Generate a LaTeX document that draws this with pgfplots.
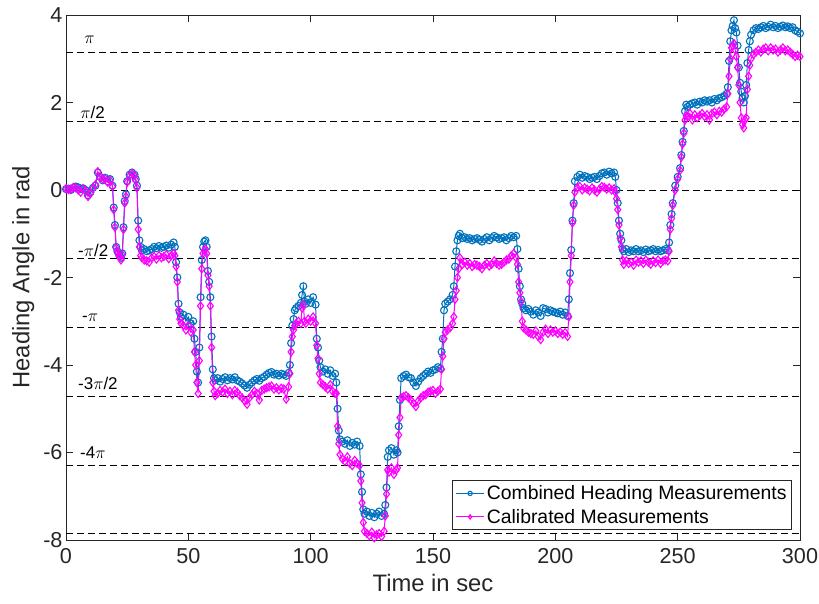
\documentclass[border=0pt]{standalone}
\usepackage{fontspec}
\setmainfont{Liberation Sans}
\usepackage{pgfplots}
\usepackage{pgfplotstable}
\pgfplotsset{compat=1.18}
\definecolor{mblue}{rgb}{0,0.447,0.741}
\definecolor{mmag}{rgb}{1,0,1}
\definecolor{axgray}{rgb}{0.15,0.15,0.15}

\pgfplotstableread{
t b m
0 0.02 0.03
1 0.03 0.01
2 0.00 0.02
3 0.05 0.06
4 0.08 0.05
5 0.06 0.00
6 0.02 -0.05
7 0.04 0.03
8 0.00 -0.02
9 -0.12 -0.15
10 -0.05 -0.08
11 0.05 0.04
12 0.10 0.12
13 0.40 0.42
14 0.30 0.28
15 0.22 0.25
16 0.28 0.25
17 0.20 0.18
18 0.25 0.22
19 0.10 0.08
19.5 -0.40 -0.45
20 -0.80 -0.85
20.5 -1.30 -1.32
21 -1.40 -1.42
21.5 -1.45 -1.50
22 -1.50 -1.52
22.5 -1.55 -1.60
23 -1.45 -1.48
23.5 -0.85 -0.90
24 -0.25 -0.30
24.5 -0.10 -0.15
25 0.20 0.18
26 0.35 0.32
27 0.40 0.38
28 0.35 0.33
28.5 0.25 0.22
29 0.10 0.05
29.5 -0.70 -0.90
30 -1.15 -1.30
30.5 -1.30 -1.50
31 -1.38 -1.55
32 -1.35 -1.60
33 -1.40 -1.62
34 -1.38 -1.65
35 -1.35 -1.55
36 -1.30 -1.52
37 -1.33 -1.58
38 -1.28 -1.50
39 -1.32 -1.55
40 -1.30 -1.52
41 -1.27 -1.48
42 -1.32 -1.57
43 -1.25 -1.50
44 -1.20 -1.45
44.5 -1.30 -1.50
45 -1.65 -1.75
45.5 -2.00 -2.10
46 -2.60 -2.75
46.5 -2.80 -2.95
47 -2.90 -3.05
48 -2.85 -3.10
49 -3.00 -3.20
50 -2.90 -3.10
51 -3.05 -3.25
52 -3.00 -3.20
52.5 -3.40 -3.70
53 -3.70 -4.00
53.5 -4.15 -4.40
54 -4.40 -4.65
54.5 -3.60 -3.90
55 -2.45 -2.65
55.5 -1.60 -1.80
56 -1.30 -1.45
56.5 -1.18 -1.38
57 -1.15 -1.35
57.5 -1.30 -1.45
58 -1.85 -1.95
58.5 -2.10 -2.20
59 -2.45 -2.65
59.5 -3.35 -3.60
60 -4.10 -4.40
60.5 -4.30 -4.60
61 -4.35 -4.70
62 -4.30 -4.65
63 -4.38 -4.58
64 -4.32 -4.62
65 -4.28 -4.55
66 -4.35 -4.65
67 -4.30 -4.60
68 -4.33 -4.68
69 -4.28 -4.58
70 -4.35 -4.62
71 -4.38 -4.70
72 -4.42 -4.75
73 -4.47 -4.82
74 -4.52 -4.90
75 -4.45 -4.75
76 -4.40 -4.68
77 -4.35 -4.60
78 -4.32 -4.65
79 -4.36 -4.80
80 -4.30 -4.58
81 -4.27 -4.55
82 -4.22 -4.52
83 -4.18 -4.50
84 -4.16 -4.48
85 -4.22 -4.55
86 -4.20 -4.52
87 -4.24 -4.57
88 -4.20 -4.53
89 -4.22 -4.55
90 -4.25 -4.78
91 -4.18 -4.50
91.5 -4.00 -4.20
92 -3.50 -3.70
92.5 -3.10 -3.35
93 -2.95 -3.20
93.5 -2.75 -3.10
94 -2.70 -3.05
95 -2.65 -3.00
96 -2.58 -3.05
96.5 -2.40 -2.70
97 -2.20 -2.62
97.5 -2.55 -3.00
98 -2.60 -3.05
99 -2.50 -2.95
100 -2.58 -3.00
101 -2.45 -2.90
102 -2.62 -3.05
102.5 -3.40 -3.55
103 -3.60 -3.85
103.5 -3.90 -4.20
104 -4.05 -4.40
105 -4.15 -4.45
106 -4.10 -4.50
107 -4.20 -4.55
108 -4.12 -4.45
109 -4.25 -4.60
110 -4.20 -4.65
110.5 -4.40 -4.65
111 -5.00 -5.40
111.5 -5.50 -5.80
112 -5.70 -6.05
113 -5.75 -6.15
114 -5.80 -6.20
115 -5.72 -6.10
116 -5.85 -6.25
117 -5.78 -6.30
118 -5.82 -6.18
119 -5.75 -6.25
120 -5.85 -6.30
120.5 -6.50 -6.65
121 -6.90 -7.15
121.5 -7.30 -7.60
122 -7.40 -7.80
123 -7.35 -7.85
124 -7.45 -7.90
125 -7.38 -7.82
126 -7.48 -7.95
127 -7.40 -7.88
128 -7.35 -7.85
129 -7.45 -7.92
130 -7.40 -7.80
130.5 -7.20 -7.45
131 -6.80 -6.95
131.5 -6.10 -6.40
132 -5.95 -6.45
133 -5.90 -6.35
134 -6.05 -6.50
135 -5.95 -6.40
135.5 -6.00 -6.35
136 -5.40 -5.60
136.5 -4.80 -5.20
137 -4.30 -4.75
138 -4.25 -4.72
139 -4.22 -4.70
140 -4.28 -4.75
141 -4.30 -4.80
142 -4.40 -4.88
143 -4.48 -4.95
144 -4.38 -4.82
145 -4.30 -4.75
146 -4.25 -4.70
147 -4.20 -4.68
148 -4.15 -4.62
149 -4.18 -4.60
150 -4.12 -4.58
151 -4.10 -4.65
152 -4.05 -4.60
153 -4.08 -4.55
153.5 -3.70 -4.10
154 -3.40 -3.80
154.5 -2.75 -3.40
155 -2.60 -3.25
156 -2.55 -3.20
157 -2.50 -3.15
158 -2.40 -3.05
158.5 -2.20 -2.90
159 -1.75 -2.50
159.5 -1.40 -2.30
160 -1.15 -2.00
160.5 -1.05 -1.80
161 -1.00 -1.55
162 -1.10 -1.70
163 -1.08 -1.65
164 -1.12 -1.72
165 -1.10 -1.68
166 -1.15 -1.75
167 -1.12 -1.70
168 -1.10 -1.72
169 -1.14 -1.75
170 -1.18 -1.80
171 -1.12 -1.72
172 -1.08 -1.68
173 -1.15 -1.74
174 -1.10 -1.70
175 -1.05 -1.62
176 -1.08 -1.68
177 -1.12 -1.72
178 -1.10 -1.70
179 -1.08 -1.65
180 -1.15 -1.60
181 -1.10 -1.58
182 -1.05 -1.50
183 -1.08 -1.45
184 -1.05 -1.55
184.5 -1.35 -1.70
185 -1.80 -2.10
185.5 -2.20 -2.35
186 -2.50 -2.55
186.5 -2.60 -3.00
187 -2.70 -3.15
188 -2.75 -3.20
189 -2.72 -3.25
190 -2.78 -3.28
191 -2.85 -3.30
192 -2.75 -3.22
193 -2.80 -3.35
194 -2.88 -3.42
195 -2.70 -3.25
196 -2.72 -3.18
197 -2.80 -3.28
198 -2.75 -3.20
199 -2.78 -3.25
200 -2.80 -3.22
201 -2.82 -3.28
202 -2.78 -3.25
203 -2.85 -3.30
204 -2.80 -3.26
205 -2.88 -3.35
205.5 -2.50 -2.90
206 -1.90 -2.10
206.5 -1.37 -1.50
207 -0.70 -0.75
207.5 -0.30 -0.35
208 0.20 -0.05
209 0.30 0.05
210 0.35 0.08
211 0.28 0.00
212 0.32 0.05
213 0.30 0.02
214 0.25 -0.02
215 0.28 0.05
216 0.30 0.00
217 0.25 -0.05
218 0.32 0.02
219 0.38 0.08
220 0.40 0.06
221 0.35 0.02
222 0.42 0.05
223 0.38 0.00
224 0.40 0.03
224.5 0.30 -0.05
225 0.00 -0.20
225.5 -0.30 -0.45
226 -0.70 -0.80
226.5 -1.00 -1.10
227 -1.15 -1.30
227.5 -1.35 -1.60
228 -1.40 -1.70
229 -1.35 -1.62
230 -1.42 -1.68
231 -1.38 -1.65
232 -1.40 -1.72
233 -1.35 -1.60
234 -1.40 -1.65
235 -1.38 -1.62
236 -1.42 -1.68
237 -1.36 -1.60
238 -1.40 -1.65
239 -1.38 -1.70
240 -1.35 -1.62
241 -1.40 -1.66
242 -1.37 -1.60
243 -1.40 -1.68
244 -1.38 -1.62
245 -1.35 -1.60
246 -1.38 -1.62
246.5 -1.20 -1.40
247 -0.80 -0.90
247.5 -0.55 -0.65
248 -0.30 -0.35
249 0.10 0.00
250 0.30 0.25
251 0.50 0.45
251.5 0.80 0.75
252 1.10 1.05
252.5 1.35 1.30
253 1.80 1.60
253.5 1.95 1.70
254 1.90 1.68
255 1.95 1.75
256 1.98 1.60
257 2.00 1.72
258 1.95 1.65
259 2.02 1.70
260 2.00 1.75
261 2.05 1.68
262 2.02 1.72
263 2.05 1.60
264 2.00 1.75
265 2.08 1.78
266 2.05 1.72
267 2.10 1.80
268 2.12 1.78
269 2.15 1.85
270 2.20 1.90
270.5 2.35 2.20
271 2.95 2.60
271.5 3.40 3.00
272 3.65 3.25
272.5 3.75 3.30
273 3.88 3.35
273.5 3.70 3.20
274 3.60 3.05
274.5 3.30 2.80
275 2.80 2.40
275.5 2.45 2.00
276 2.25 1.65
276.5 2.10 1.50
277 2.00 1.42
277.5 2.15 1.60
278 2.40 1.65
278.5 2.90 2.30
279 3.20 2.60
279.5 3.40 2.85
280 3.55 3.00
281 3.65 3.10
282 3.70 3.15
283 3.68 3.20
284 3.72 3.15
285 3.75 3.22
286 3.70 3.25
287 3.73 3.18
288 3.78 3.25
289 3.72 3.20
290 3.75 3.22
291 3.70 3.15
292 3.73 3.20
293 3.76 3.25
294 3.72 3.18
295 3.74 3.20
296 3.70 3.15
297 3.72 3.10
298 3.65 3.05
299 3.62 3.08
300 3.58 3.05
}\datatable

\begin{document}
\begin{tikzpicture}
\begin{axis}[
  scale only axis,
  width=734pt, height=525pt,
  xmin=0, xmax=300, ymin=-8, ymax=4,
  xtick={0,50,...,300}, ytick={-8,-6,...,4},
  tick align=inside,
  major tick length=7pt,
  axis line style={axgray, line width=0.6pt},
  every tick/.style={axgray, line width=0.6pt},
  /pgf/number format/assume math mode=true,
  tick label style={font=\fontsize{21.6}{26}\selectfont, text=axgray},
  xticklabel style={yshift=-5pt},
  label style={font=\fontsize{23.8}{28}\selectfont, text=axgray},
  xlabel={Time in sec},
  ylabel={Heading Angle in rad},
  xlabel style={yshift=-4pt},
  ylabel style={yshift=2pt},
  legend cell align=left,
  legend style={at={(rel axis cs:0.989,0.019)}, anchor=south east,
    font=\fontsize{19.4}{22}\selectfont, draw=axgray, line width=0.6pt,
    inner sep=3pt, row sep=4pt},
  legend image code/.code={%
    \draw[mark repeat=2,mark phase=2, mark size=2.2pt] plot coordinates {(0cm,0cm) (0.5cm,0cm) (1cm,0cm)};},
]
\coordinate (O) at (rel axis cs:0,0);
% reference lines
\foreach \v in {3.14159,1.5708,0,-1.5708,-3.14159,-4.71239,-6.28319,-7.85398}{
  \edef\tmp{\noexpand\addplot[black, line width=0.7pt, dash pattern=on 7pt off 4pt, forget plot] coordinates {(0,\v) (300,\v)};}
  \tmp
}
\addplot[mblue, line width=1pt, mark=o, mark size=3.5pt, mark options={line width=1.1pt}]
  table[x=t, y=b] {\datatable};
\addlegendentry{Combined Heading Measurements}
\addplot[mmag, line width=1pt, mark=diamond, mark size=4pt, mark options={line width=1.1pt}]
  table[x=t, y=m] {\datatable};
\addlegendentry{Calibrated Measurements}
\node[anchor=west, font=\fontsize{17}{20}\selectfont, inner sep=0pt] at (axis cs:7.4,3.43) {$\pi$};
\node[anchor=west, font=\fontsize{17}{20}\selectfont, inner sep=0pt] at (axis cs:5.8,1.78) {$\pi$/2};
\node[anchor=west, font=\fontsize{17}{20}\selectfont, inner sep=0pt] at (axis cs:4.9,-1.37) {-$\pi$/2};
\node[anchor=west, font=\fontsize{17}{20}\selectfont, inner sep=0pt] at (axis cs:6.5,-2.93) {-$\pi$};
\node[anchor=west, font=\fontsize{17}{20}\selectfont, inner sep=0pt] at (axis cs:4.9,-4.41) {-3$\pi$/2};
\node[anchor=west, font=\fontsize{17}{20}\selectfont, inner sep=0pt] at (axis cs:5.7,-6.01) {-4$\pi$};
\end{axis}
\pgfresetboundingbox
\path (O) ++(-66pt,-63pt) rectangle ++(819pt,603pt);
\end{tikzpicture}
\end{document}
